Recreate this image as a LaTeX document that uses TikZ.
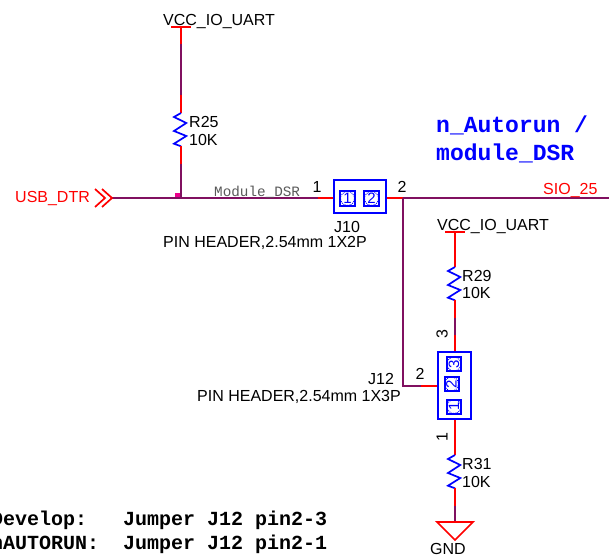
\documentclass[tikz,border=0pt]{standalone}
\usepackage{xcolor}
\usepackage{fontspec}
\setmainfont{Liberation Sans}
\setmonofont{Liberation Mono}
\usetikzlibrary{calc}
\definecolor{netwire}{RGB}{128,16,96}
\definecolor{pinred}{RGB}{255,0,0}
\definecolor{partblue}{RGB}{0,0,255}
\newcommand*{\Resistor}[1]{\draw[partblue, line width=1.7pt] (#1) -- ++(-7,4) -- ++(12.3,6) -- ++(-12.3,8) -- ++(12.3,5) -- ++(-12.3,7.7) -- ++(7,2.6);}
\tikzstyle{txt}=[black, inner sep=0pt, font=\fontsize{16}{18}\selectfont]
\tikzstyle{redtxt}=[txt, text=pinred]
\tikzstyle{headtxt}=[inner sep=0pt, anchor=west, text=partblue, font=\fontsize{23}{25}\selectfont\ttfamily\bfseries]
\tikzstyle{notetxt}=[inner sep=0pt, anchor=west, text=black, font=\fontsize{20}{22}\selectfont\ttfamily\bfseries]
\tikzstyle{wire}=[netwire, line width=1.7pt]
\tikzstyle{pin}=[pinred, line width=1.7pt]
\tikzstyle{headbox}=[draw=partblue, fill=white, line width=2pt, inner sep=0pt]
\tikzstyle{pad}=[draw=partblue, line width=2pt, minimum size=15pt, inner sep=0pt, text=partblue, font=\fontsize{15}{15}\selectfont, path picture={\draw[partblue, line width=0.9pt, densely dotted] (path picture bounding box.center) circle (7pt);}]
\tikzstyle{dot}=[fill=magenta, shape=rectangle, minimum size=6pt, inner sep=0pt]
\begin{document}
\begin{tikzpicture}[x=1pt,y=-1pt]
\useasboundingbox (0,0) rectangle (611,559);
\clip (0,0) rectangle (611,559);

% top pull-up
\coordinate (vcca) at (181,27);
\coordinate (vcca1) at (181,44);
\coordinate (vcca2) at (181,95);
\coordinate (r25t) at (181,113);
\coordinate (r25b) at (181,146.3);
\coordinate (r25c) at (181,164);
\coordinate (r25d) at (181,198);
\coordinate (usb) at (111,198);
\coordinate (p1a) at (318,198);
\coordinate (sio) at (609,198);
\coordinate (p2a) at (403,198);
\coordinate (vccal) at (171,27);
\coordinate (vccar) at (191,27);

\node [headbox, minimum width=52pt, minimum height=33pt] (j10) at (359.5,197) {};
\node [pad] (j10a) at (347.5,198.5) {1};
\node [pad] (j10b) at (371.5,198.5) {2};
\node [headbox, minimum width=33pt, minimum height=67pt] (j12) at (454,385) {};
\node [pad, minimum size=14pt, rotate=90] (j12c) at (454,364) {3};
\node [pad, minimum size=14pt, rotate=90] (j12b) at (451.5,384) {2};
\node [pad, minimum size=14pt, rotate=90] (j12a) at (454,406.5) {1};
\node [dot] (jn) at (178,196) {};

\draw[pin] (vccal) -- (vccar);
\draw[pin] (vcca) -- (vcca1);
\draw[wire] (vcca1) -- (vcca2);
\draw[pin] (vcca2) -- (r25t);
\Resistor{r25t}
\draw[pin] (r25b) -- (r25c);
\draw[wire] (r25c) -- (r25d);
\draw[wire] (usb) -- (p1a);
\draw[pin] (p1a) -- (j10.west |- p1a);
\draw[pin] (j10.east |- p2a) -- (p2a);
\draw[wire] (p2a) -- (sio);

% branch to J12
\coordinate (br) at (403,386);
\coordinate (p2b) at (421,386);
\draw[wire] (p2a) -- (br) -- (p2b);
\draw[pin] (p2b) -- (j12.west |- p2b);

% pin 3 side
\coordinate (vccbl) at (445,232);
\coordinate (vccbr) at (465,232);
\coordinate (vccb) at (455,232);
\coordinate (r29t) at (455,267);
\coordinate (r29b) at (455,300.3);
\coordinate (r29c) at (455,318);
\coordinate (p3a) at (455,335);
\draw[pin] (vccbl) -- (vccbr);
\draw[pin] (vccb) -- (r29t);
\Resistor{r29t}
\draw[pin] (r29b) -- (r29c);
\draw[wire] (r29c) -- (p3a);
\draw[pin] (p3a) -- (j12.north -| p3a);

% pin 1 side
\coordinate (r31t) at (455,455);
\coordinate (r31b) at (455,488.3);
\coordinate (r31c) at (455,506);
\coordinate (gnd) at (455,522);
\coordinate (gndl) at (437,522);
\coordinate (gndr) at (473,522);
\coordinate (gndt) at (455,540);
\draw[pin] (j12.south -| r31t) -- (r31t);
\Resistor{r31t}
\draw[pin] (r31b) -- (r31c);
\draw[wire] (r31c) -- (gnd);
\draw[pin] (gndl) -- (gndr) -- (gndt) -- cycle;

% USB_DTR chevrons
\coordinate (cha) at (95,189);
\coordinate (chb) at (105,198);
\coordinate (chc) at (95,207);
\coordinate (chd) at (102,189);
\coordinate (che) at (112,198);
\coordinate (chf) at (102,207);
\draw[pin] (cha) -- (chb) -- (chc);
\draw[pin] (chd) -- (che) -- (chf);

% labels
\node [txt, anchor=west] (vcclabel) at (163,22) {VCC\_IO\_UART};
\node [txt, anchor=west] (r25name) at (189,122) {R25};
\node [txt, anchor=west] (r25val) at (189,140) {10K};
\node [redtxt, anchor=west] (usbname) at (15,199) {USB\_DTR};
\node [inner sep=0pt, anchor=west, text=black!65, font=\fontsize{14.3}{16}\selectfont\ttfamily] (modname) at (214,192) {Module\_DSR};
\node [txt] (pin1) at (317,187) {1};
\node [txt] (pin2) at (402,187) {2};
\node [redtxt, anchor=west] (sioname) at (543,191) {SIO\_25};
\node [txt, anchor=west] (j10name) at (334,227) {J10};
\node [txt, anchor=west] (j10part) at (163,242.5) {PIN HEADER,2.54mm 1X2P};
\node [txt, anchor=west] (vccblabel) at (437,227) {VCC\_IO\_UART};
\node [txt, anchor=west] (r29name) at (462,276) {R29};
\node [txt, anchor=west] (r29val) at (462,293) {10K};
\node [txt, rotate=90] (pin3v) at (442,334) {3};
\node [txt, anchor=west] (j12name) at (368,379) {J12};
\node [txt] (pin2b) at (420,374) {2};
\node [txt, anchor=west] (j12part) at (197,396.5) {PIN HEADER,2.54mm 1X3P};
\node [txt, rotate=90] (pin1v) at (442,437) {1};
\node [txt, anchor=west] (r31name) at (462,464) {R31};
\node [txt, anchor=west] (r31val) at (462,482) {10K};
\node [txt] (gndname) at (448,549) {GND};
\node [headtxt] (head1) at (436,125) {n\_Autorun /};
\node [headtxt] (head2) at (436,153) {module\_DSR};
\node [notetxt] (note1) at (-9,520) {Develop:\ \ \ Jumper J12 pin2-3};
\node [notetxt] (note2) at (-9,544) {nAUTORUN:\ \ Jumper J12 pin2-1};
\end{tikzpicture}
\end{document}
